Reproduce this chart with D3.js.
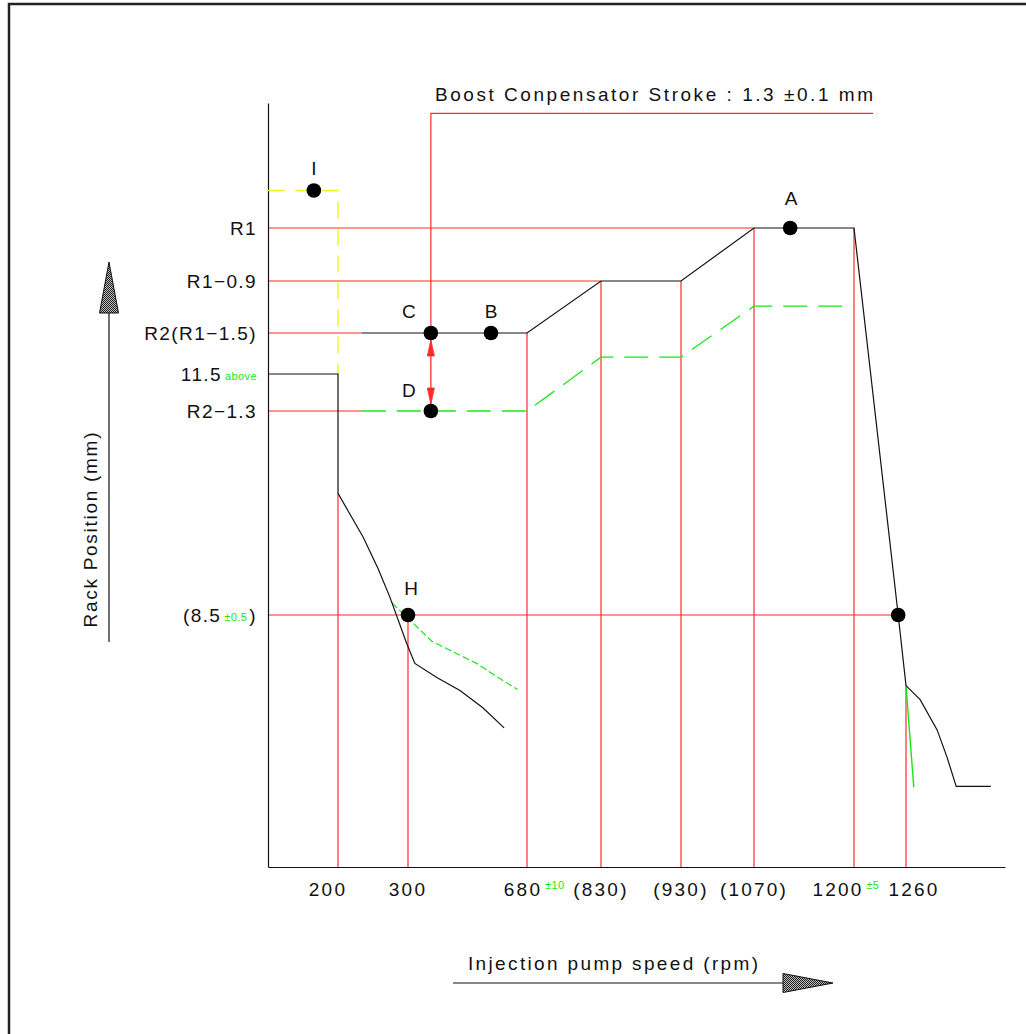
<!DOCTYPE html>
<html>
<head>
<meta charset="utf-8">
<script src="https://cdn.jsdelivr.net/npm/d3@7"></script>
<style>
  html, body { margin: 0; padding: 0; background: #fff; }
  svg { display: block; }
  text { font-family: "Liberation Sans", Arial, sans-serif; fill: #111; }
</style>
</head>
<body>
<svg id="chart" width="1026" height="1034"></svg>
<script>
// ---------------- DATA ----------------
const titleText = "Boost Conpensator Stroke : 1.3 \u00B10.1 mm";
const xAxisTitle = "Injection pump speed (rpm)";
const yAxisTitle = "Rack Position (mm)";

const xTicks      = [200, 300, 680, 830, 930, 1070, 1200, 1260];
const xTickLabels = ["200", "300", "680", "(830)", "(930)", "(1070)", "1200", "1260"];
const xTickTol    = ["", "", "\u00B110", "", "", "", "\u00B15", ""];

const yTicks      = [14.0, 13.1, 12.5, 11.5, 11.2, 8.5];
const yTickLabels = ["R1", "R1\u22120.9", "R2(R1\u22121.5)", "11.5", "R2\u22121.3", "(8.5"];
const yTickTol    = ["", "", "", "above", "", "\u00B10.5"];
const yTickSuffix = ["", "", "", "", "", ")"];

// full-load curve (black)
const fullLoadRpm = [234, 680, 830, 930, 1070, 1200, 1251, 1260, 1280, 1304, 1318, 1331, 1380];
const fullLoadMm  = [12.5, 12.5, 13.1, 13.1, 14.0, 14.0, 8.5, 7.80, 7.66, 7.36, 7.09, 6.80, 6.80];
// boost-compensated curve (green dashed)
const boostRpm = [234, 680, 830, 930, 1070, 1200];
const boostMm  = [11.2, 11.2, 11.91, 11.91, 12.81, 12.81];
// droop tolerance (green)
const droopRpm = [1260, 1271];
const droopMm  = [7.80, 6.79];
// idle curve (black)
const idleRpm = [0, 200, 200, 236, 257, 274, 298, 322, 392, 466, 539, 607];
const idleMm  = [11.5, 11.5, 10.11, 9.53, 9.12, 8.74, 8.22, 8.02, 7.88, 7.75, 7.58, 7.38];
// idle tolerance curve (green dashed)
const idleTolRpm = [277, 298, 376, 434, 519, 603, 650];
const idleTolMm  = [8.66, 8.48, 8.24, 8.15, 8.02, 7.85, 7.76];
// start (yellow dashed)
const startRpm = [0, 200, 200];
const startMm  = [14.36, 14.36, 11.5];

// measuring points
const pointNames = ["I", "A", "B", "C", "D", "H", ""];
const pointRpm   = [131, 1117, 565, 373, 373, 300, 1251];
const pointMm    = [14.36, 14.0, 12.5, 12.5, 11.2, 8.5, 8.5];

// red reference lines
const refHMm   = [14.0, 13.1, 12.5, 11.2, 8.5];
const refHEnd  = [1070, 830, 234, 234, 1251];
const refVRpm  = [200, 300, 680, 830, 930, 1070, 1200, 1260];
const refVTop  = [10.11, 8.5, 12.5, 13.1, 13.1, 14.0, 14.0, 7.80];
const boostRefRpm = [1222, 373, 373];
const boostRefMm  = [15.1, 15.1, 12.5];

// ---------------- LAYOUT ----------------
const svg = d3.select("#chart");
const RED = "#ff2a2a", GREEN = "#19e619", YELLOW = "#f2f21a";

// schematic (piecewise) scales
const x = d3.scaleLinear()
  .domain([0, 200, 300, 680, 830, 930, 1070, 1200, 1260, 1400])
  .range([268, 338, 408, 527, 601, 681, 754, 854, 906, 1005]);
const y = d3.scaleLinear()
  .domain([6.0, 8.5, 11.2, 11.5, 12.5, 13.1, 14.0, 15.2])
  .range([867, 615, 411, 374, 333, 281, 228, 103]);

// pattern for stippled arrowheads
const defs = svg.append("defs");
const pat = defs.append("pattern").attr("id", "stip").attr("width", 2).attr("height", 2)
  .attr("patternUnits", "userSpaceOnUse");
pat.append("rect").attr("width", 2).attr("height", 2).attr("fill", "#bbb");
pat.append("rect").attr("width", 1).attr("height", 1).attr("fill", "#222");
pat.append("rect").attr("x", 1).attr("y", 1).attr("width", 1).attr("height", 1).attr("fill", "#222");

// frame
svg.append("path").attr("d", "M9,1034 L9,4 L1026,4")
  .attr("fill", "none").attr("stroke", "#222").attr("stroke-width", 2.5);

const line = d3.line().x(d => x(d[0])).y(d => y(d[1]));
const zip = (a, b) => a.map((v, i) => [v, b[i]]);

// red reference lines
const gRef = svg.append("g").attr("stroke", RED).attr("stroke-width", 1.2).attr("fill", "none");
refHMm.forEach((m, i) => gRef.append("path").attr("d", line([[0, m], [refHEnd[i], m]])));
refVRpm.forEach((r, i) => gRef.append("path").attr("d", line([[r, 6.0], [r, refVTop[i]]])));
gRef.append("path").attr("d", line(zip(boostRefRpm, boostRefMm)));

// axes
svg.append("g").attr("transform", "translate(0,867)")
  .call(d3.axisBottom(x).tickValues([]).tickSizeOuter(0))
  .call(g => g.select(".domain").attr("stroke", "#111").attr("stroke-width", 1.2));
svg.append("g").attr("transform", "translate(268,0)")
  .call(d3.axisLeft(y).tickValues([]).tickSizeOuter(0))
  .call(g => g.select(".domain").attr("stroke", "#111").attr("stroke-width", 1.2));

// curves
svg.append("path").attr("d", line(zip(startRpm, startMm)))
  .attr("fill", "none").attr("stroke", YELLOW).attr("stroke-width", 1.4).attr("stroke-dasharray", "17 10");
svg.append("path").attr("d", line(zip(boostRpm, boostMm)))
  .attr("fill", "none").attr("stroke", GREEN).attr("stroke-width", 1.3).attr("stroke-dasharray", "24 11");
svg.append("path").attr("d", line(zip(idleTolRpm, idleTolMm)))
  .attr("fill", "none").attr("stroke", GREEN).attr("stroke-width", 1.2).attr("stroke-dasharray", "7 3");
svg.append("path").attr("d", line(zip(droopRpm, droopMm)))
  .attr("fill", "none").attr("stroke", GREEN).attr("stroke-width", 1.4);
svg.append("path").attr("d", line(zip(fullLoadRpm, fullLoadMm)))
  .attr("fill", "none").attr("stroke", "#111").attr("stroke-width", 1.2);
svg.append("path").attr("d", line(zip(idleRpm, idleMm)))
  .attr("fill", "none").attr("stroke", "#111").attr("stroke-width", 1.2);

// red double arrow C <-> D (boost stroke)
const cx = x(pointRpm[3]), cy = y(pointMm[3]) + 7, dy = y(pointMm[4]) - 7;
svg.append("path").attr("fill", RED).attr("stroke", RED).attr("stroke-width", 0.8)
  .attr("d", `M${cx},${cy} L${cx - 3.5},${cy + 16} L${cx + 3.5},${cy + 16} Z`);
svg.append("path").attr("fill", RED).attr("stroke", RED).attr("stroke-width", 0.8)
  .attr("d", `M${cx},${dy} L${cx - 3.5},${dy - 16} L${cx + 3.5},${dy - 16} Z`);
svg.append("path").attr("stroke", RED).attr("stroke-width", 1.3)
  .attr("d", `M${cx},${cy} L${cx},${dy}`);

// points
const labOff = { "I": [0, -16], "A": [1, -23], "B": [0, -15], "C": [-22, -15], "D": [-22, -14], "H": [3, -20] };
pointNames.forEach((n, i) => {
  const px = x(pointRpm[i]), py = y(pointMm[i]);
  svg.append("circle").attr("cx", px).attr("cy", py).attr("r", 7.3).attr("fill", "#000");
  if (n) {
    const o = labOff[n] || [0, -16];
    svg.append("text").attr("x", px + o[0]).attr("y", py + o[1])
      .attr("text-anchor", "middle").attr("font-size", 19).text(n);
  }
});

// y tick labels
yTicks.forEach((v, i) => {
  const t = svg.append("text").attr("x", 257).attr("y", y(v) + 6.5)
    .attr("text-anchor", "end").attr("font-size", 19).attr("letter-spacing", 1.4);
  t.append("tspan").text(yTickLabels[i]);
  if (yTickTol[i]) {
    t.append("tspan").attr("font-size", 11).attr("letter-spacing", 0.4).attr("fill", GREEN)
      .attr("dx", 3).attr("dy", -1).text(yTickTol[i]);
  }
  if (yTickSuffix[i]) {
    t.append("tspan").attr("dx", 2).attr("dy", 1).text(yTickSuffix[i]);
  }
});

// x tick labels
const xLabDx = { 200: -10, 680: -4, 1200: -16, 1260: 8 };
xTicks.forEach((v, i) => {
  const cxl = x(v) + (xLabDx[v] || 0);
  const t = svg.append("text").attr("x", cxl).attr("y", 896)
    .attr("text-anchor", "middle").attr("font-size", 19).attr("letter-spacing", 2.2)
    .text(xTickLabels[i]);
  if (xTickTol[i]) {
    const bb = t.node().getBBox();
    svg.append("text").attr("x", bb.x + bb.width + 3).attr("y", 889)
      .attr("font-size", 11).attr("letter-spacing", 0.3).style("fill", GREEN).text(xTickTol[i]);
  }
});

// title
svg.append("text").attr("x", 435).attr("y", 101).attr("font-size", 19)
  .attr("textLength", 438).attr("lengthAdjust", "spacing").text(titleText);

// y axis title + arrow
svg.append("text").attr("transform", "translate(97,530) rotate(-90)")
  .attr("text-anchor", "middle").attr("font-size", 19)
  .attr("textLength", 195).attr("lengthAdjust", "spacing").text(yAxisTitle);
svg.append("path").attr("d", "M109,642 L109,300").attr("stroke", "#111").attr("stroke-width", 1.2);
svg.append("path").attr("d", "M109,262 L99.5,313 L118.5,313 Z")
  .attr("fill", "url(#stip)").attr("stroke", "#111").attr("stroke-width", 1);

// x axis title + arrow
svg.append("text").attr("x", 468).attr("y", 970).attr("font-size", 19)
  .attr("textLength", 290).attr("lengthAdjust", "spacing").text(xAxisTitle);
svg.append("path").attr("d", "M453,983 L790,983").attr("stroke", "#111").attr("stroke-width", 1.2);
svg.append("path").attr("d", "M833,983 L783,973.5 L783,992.5 Z")
  .attr("fill", "url(#stip)").attr("stroke", "#111").attr("stroke-width", 1);
</script>
</body>
</html>
